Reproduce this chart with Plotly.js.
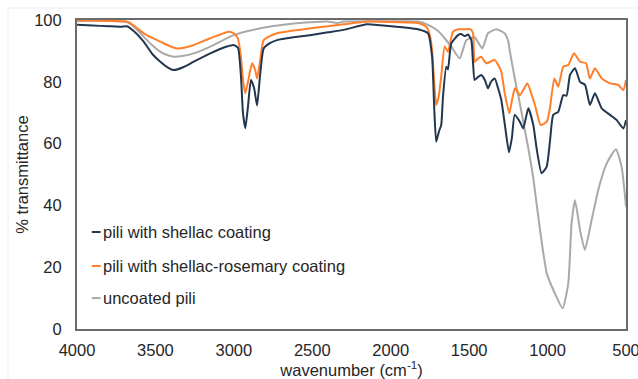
<!DOCTYPE html>
<html>
<head>
<meta charset="utf-8">
<script src="https://cdn.plot.ly/plotly-3.0.1.min.js"></script>
<style>html,body{margin:0;padding:0;background:#fff;}#chart{width:638px;height:379px;}</style>
</head>
<body>
<div id="chart"></div>
<script>
// pili with shellac coating
const shellacWn = [4000,3900,3800,3720,3681,3640,3575,3520,3469,3420,3384,3320,3256,3150,3044,3001,2974,2955,2942,2927,2910,2891,2871,2852,2833,2810,2770,2725,2620,2515,2400,2300,2151,2068,1896,1826,1762,1736,1723,1710,1692,1678,1667,1646,1635,1614,1571,1552,1528,1507,1486,1475,1465,1444,1423,1399,1380,1361,1337,1316,1295,1272,1246,1227,1210,1176,1155,1123,1091,1070,1038,1006,985,964,932,900,879,857,825,793,761,730,698,655,602,559,517,500];
const shellacT  = [98.5,98.2,98.0,97.8,98.0,96.5,93.0,89.0,86.5,84.6,83.8,84.8,86.5,89.2,91.4,91.9,91.0,82.0,70.0,65.0,72.0,80.6,78.0,72.3,82.0,90.8,92.5,93.5,94.4,95.1,96.0,96.8,98.6,98.3,97.5,97.0,95.7,88.0,72.0,60.6,64.0,66.0,75.0,84.9,84.0,92.4,95.1,95.5,94.8,95.3,93.5,86.0,80.6,81.5,82.2,80.5,77.9,80.0,81.1,78.0,74.1,66.0,57.2,62.0,69.3,67.0,64.9,71.4,66.0,58.5,50.4,52.5,60.6,69.3,70.3,75.7,75.5,82.2,84.4,80.0,79.0,72.5,76.3,71.4,69.3,67.6,64.9,67.6];

// pili with shellac-rosemary coating
const rosemaryWn = [4000,3900,3800,3700,3670,3620,3575,3520,3469,3410,3363,3310,3256,3150,3033,3001,2974,2955,2940,2927,2910,2884,2865,2852,2835,2810,2770,2725,2620,2512,2400,2300,2150,1900,1826,1773,1750,1736,1723,1710,1695,1678,1656,1635,1603,1570,1530,1490,1475,1465,1444,1423,1391,1337,1316,1295,1272,1244,1227,1208,1176,1129,1101,1080,1044,1005,985,957,932,900,868,832,793,755,730,698,655,602,549,517,500];
const rosemaryT  = [99.8,99.8,99.7,99.6,99.3,97.5,95.7,94.2,93.0,91.6,90.8,91.1,91.9,94.1,96.2,95.7,94.0,88.0,80.0,76.3,80.0,86.0,84.0,81.1,86.0,93.5,94.8,95.7,96.6,97.3,98.0,98.6,99.5,99.2,99.0,97.8,95.0,90.0,80.0,72.5,75.0,81.7,91.4,89.7,96.2,97.0,97.0,97.0,95.7,86.5,87.5,88.1,86.0,87.1,85.5,83.3,76.0,69.8,74.0,77.9,75.7,79.5,75.7,72.5,66.0,67.1,71.4,81.1,78.4,84.9,85.4,89.2,86.5,86.0,81.1,84.4,81.1,79.5,79.0,77.3,80.6];

// uncoated pili
const uncoatedWn = [4000,3800,3681,3630,3575,3520,3469,3420,3384,3320,3256,3150,3001,2831,2619,2406,2340,2300,2000,1826,1762,1700,1656,1614,1560,1518,1465,1416,1380,1327,1274,1250,1242,1199,1187,1155,1123,1091,1048,1005,953,904,868,847,825,793,762,719,677,623,564,528,500];
const uncoatedT  = [99.7,99.7,99.3,97.5,94.6,91.8,89.7,88.6,88.1,88.4,89.2,91.4,95.1,97.3,98.9,99.5,99.0,99.5,99.6,99.5,98.4,96.5,94.1,91.4,87.6,93.5,94.4,90.8,95.7,97.0,95.7,93.0,90.3,78.4,75.7,67.1,58.5,48.8,32.0,18.0,11.5,6.7,14.8,34.2,41.7,32.0,25.6,35.3,45.0,53.6,58.2,52.5,39.6];

const seriesNames  = ['pili with shellac coating','pili with shellac-rosemary coating','uncoated pili'];
const seriesColors = ['#22364f','#ff7f2a','#a9a9a9'];
const xTicks = [4000,3500,3000,2500,2000,1500,1000,500];
const yTicks = [0,20,40,60,80,100];

const FONT = 'Arial, "Liberation Sans", sans-serif';
const FS = 16.5;
const TXT = '#262626';

const traces = [
  {x: shellacWn, y: shellacT},
  {x: rosemaryWn, y: rosemaryT},
  {x: uncoatedWn, y: uncoatedT}
].map((d, i) => ({
  x: d.x, y: d.y, type: 'scatter', mode: 'lines', name: seriesNames[i],
  line: {color: seriesColors[i], width: 2, shape: 'spline', smoothing: 0.5},
  showlegend: false, hoverinfo: 'x+y+name'
}));
const ordered = [traces[2], traces[1], traces[0]];

// legend (swatch + label), positioned in plot-paper units
const legendY = [0.314, 0.204, 0.100];
const swX0 = 0.027, swX1 = 0.043, labelX = 0.044;
const annotations = seriesNames.map((n, i) => ({
  xref: 'paper', yref: 'paper', x: labelX, y: legendY[i], xanchor: 'left', yanchor: 'middle',
  showarrow: false, align: 'left', text: n,
  font: {family: FONT, size: FS, color: TXT}
}));
const shapes = seriesNames.map((n, i) => ({
  type: 'line', xref: 'paper', yref: 'paper', x0: swX0, x1: swX1, y0: legendY[i], y1: legendY[i],
  line: {color: seriesColors[i], width: 2}
}));
shapes.push({
  type: 'rect', xref: 'paper', yref: 'paper',
  x0: -0.1257, x1: 1.05, y0: -0.3, y1: 1.0388,
  line: {color: '#ebebeb', width: 1}, fillcolor: 'rgba(0,0,0,0)', layer: 'below'
});

const layout = {
  width: 638, height: 379,
  margin: {l: 77, r: 12, t: 20, b: 50},
  paper_bgcolor: '#ffffff', plot_bgcolor: '#ffffff',
  font: {family: FONT, size: FS, color: TXT},
  xaxis: {
    range: [4000, 500], tickvals: xTicks, ticktext: xTicks.map(String),
    showgrid: false, zeroline: false, showline: true, mirror: true,
    linecolor: '#6b6b6b', linewidth: 2, ticks: '', ticklabelstandoff: 5,
    ticklabeloverflow: 'allow',
    tickfont: {family: FONT, size: FS, color: TXT},
    title: {text: 'wavenumber (cm<sup>-1</sup>)', font: {family: FONT, size: FS, color: TXT}, standoff: 3}
  },
  yaxis: {
    range: [0, 100], tickvals: yTicks, ticktext: yTicks.map(String),
    showgrid: false, zeroline: false, showline: true, mirror: true,
    linecolor: '#6b6b6b', linewidth: 2, ticks: '', ticklabelstandoff: 10,
    ticklabeloverflow: 'allow',
    tickfont: {family: FONT, size: FS, color: TXT},
    title: {text: '% transmittance', font: {family: FONT, size: FS, color: TXT}, standoff: 1}
  },
  annotations: annotations,
  shapes: shapes
};

Plotly.newPlot('chart', ordered, layout, {displayModeBar: false, staticPlot: true});
</script>
</body>
</html>
